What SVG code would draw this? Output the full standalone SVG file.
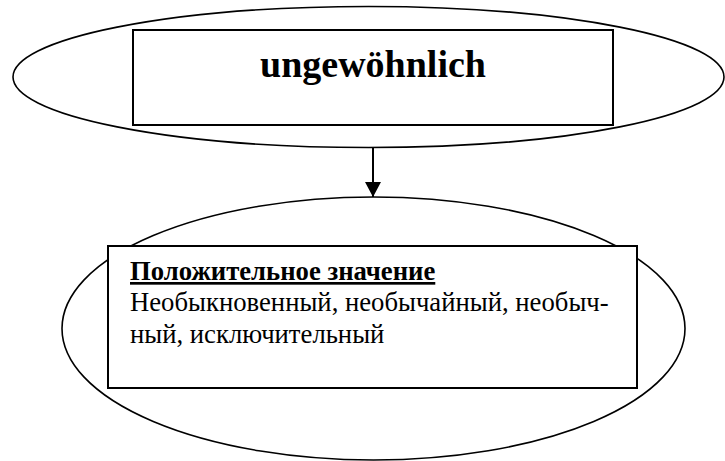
<svg xmlns="http://www.w3.org/2000/svg" width="725" height="461" viewBox="0 0 725 461">
  <style>
    .oval { fill: none; stroke: #000; stroke-width: 1.6; }
    .box { fill: #fff; stroke: #000; stroke-width: 2; }
    .title { font-family: "Liberation Serif", "Times New Roman", serif; font-weight: bold; font-size: 38px; fill: #000; }
    .head { font-family: "Liberation Serif", "Times New Roman", serif; font-weight: bold; font-size: 26.7px; fill: #000; text-decoration: underline; }
    .body { font-family: "Liberation Serif", "Times New Roman", serif; font-size: 26.7px; fill: #000; }
    .link { stroke: #000; stroke-width: 2; fill: none; }
  </style>
  <defs>
    <marker id="arrowhead" markerUnits="userSpaceOnUse" markerWidth="16" markerHeight="16" refX="15" refY="8" orient="auto">
      <path d="M0,0 L15,8 L0,16 Z" fill="#000"/>
    </marker>
  </defs>
  <rect width="725" height="461" fill="#fff"/>

  <g id="node-word">
    <ellipse class="oval" cx="368.5" cy="77" rx="355.5" ry="70.5"/>
    <rect class="box" x="133" y="30" width="480" height="95"/>
    <text class="title" x="373" y="77" text-anchor="middle">ungewöhnlich</text>
  </g>

  <g id="node-meaning">
    <ellipse class="oval" cx="373.5" cy="328.5" rx="311.5" ry="131.5"/>
    <rect class="box" x="108" y="246" width="529" height="142"/>
    <text class="head" x="130" y="280">Положительное значение</text>
    <text class="body" x="130" y="311">Необыкновенный, необычайный, необыч-</text>
    <text class="body" x="130" y="343">ный, исключительный</text>
  </g>

  <g id="connectors">
    <line class="link" x1="373" y1="148" x2="373" y2="197" marker-end="url(#arrowhead)"/>
  </g>
</svg>
